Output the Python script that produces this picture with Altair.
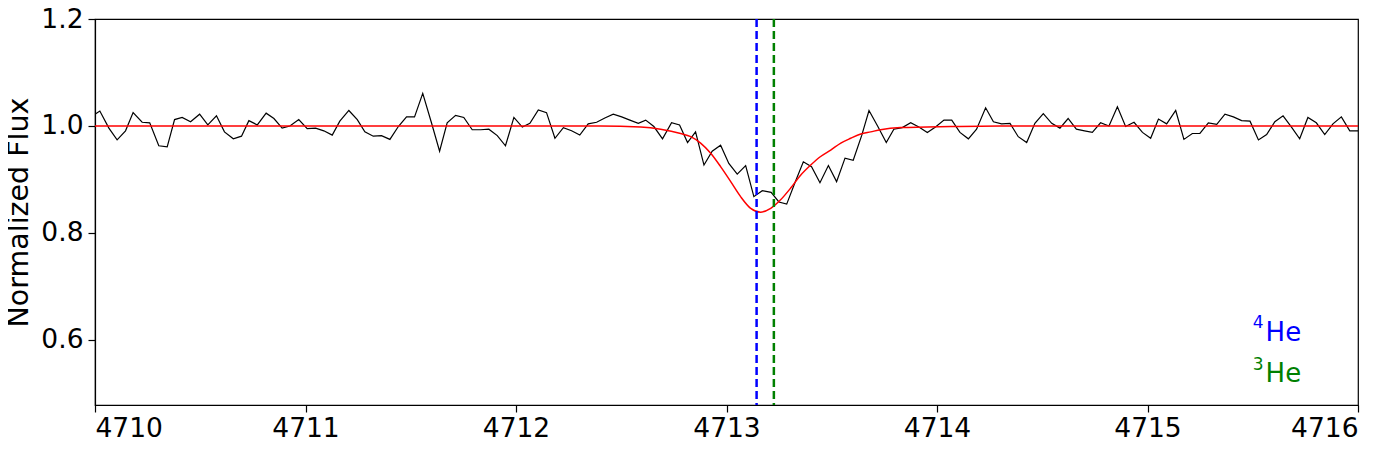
import altair as alt
import pandas as pd

# Observed spectrum (wavelength in Angstrom, normalized flux)
obs_wave = [
    4710.000, 4710.023, 4710.066, 4710.105, 4710.145, 4710.181, 4710.224, 4710.260, 4710.303, 4710.343,
    4710.378, 4710.414, 4710.454, 4710.497, 4710.536, 4710.577, 4710.615, 4710.657, 4710.696, 4710.731,
    4710.771, 4710.813, 4710.850, 4710.889, 4710.926, 4710.968, 4711.008, 4711.048, 4711.087, 4711.127,
    4711.163, 4711.206, 4711.246, 4711.282, 4711.322, 4711.361, 4711.401, 4711.441, 4711.480, 4711.518,
    4711.557, 4711.597, 4711.637, 4711.673, 4711.713, 4711.752, 4711.792, 4711.832, 4711.871, 4711.911,
    4711.950, 4711.990, 4712.030, 4712.066, 4712.106, 4712.145, 4712.185, 4712.225, 4712.264, 4712.303,
    4712.343, 4712.383, 4712.422, 4712.462, 4712.502, 4712.541, 4712.581, 4712.616, 4712.655, 4712.696,
    4712.739, 4712.777, 4712.815, 4712.853, 4712.893, 4712.932, 4712.972, 4713.011, 4713.051, 4713.091,
    4713.130, 4713.170, 4713.212, 4713.249, 4713.286, 4713.326, 4713.365, 4713.404, 4713.444, 4713.484,
    4713.523, 4713.563, 4713.602, 4713.642, 4713.677, 4713.719, 4713.759, 4713.795, 4713.835, 4713.875,
    4713.914, 4713.954, 4713.993, 4714.033, 4714.070, 4714.109, 4714.149, 4714.188, 4714.231, 4714.268,
    4714.307, 4714.347, 4714.386, 4714.426, 4714.465, 4714.505, 4714.545, 4714.584, 4714.623, 4714.662,
    4714.701, 4714.738, 4714.777, 4714.817, 4714.857, 4714.896, 4714.936, 4714.976, 4715.015, 4715.052,
    4715.091, 4715.134, 4715.173, 4715.213, 4715.249, 4715.289, 4715.329, 4715.368, 4715.408, 4715.447,
    4715.487, 4715.527, 4715.566, 4715.605, 4715.644, 4715.684, 4715.723, 4715.762, 4715.802, 4715.842,
    4715.881, 4715.921, 4715.961, 4716.000,
]
obs_flux = [
    1.022, 1.028, 0.996, 0.974, 0.991, 1.025, 1.007, 1.006, 0.963, 0.961,
    1.012, 1.016, 1.008, 1.022, 1.002, 1.019, 0.989, 0.976, 0.981, 1.010,
    1.002, 1.024, 1.014, 0.996, 1.000, 1.012, 0.995, 0.996, 0.991, 0.983,
    1.009, 1.029, 1.012, 0.989, 0.981, 0.982, 0.975, 0.999, 1.017, 1.017,
    1.061, 1.008, 0.953, 1.006, 1.020, 1.016, 0.993, 0.993, 0.994, 0.982,
    0.963, 1.016, 0.998, 1.005, 1.030, 1.025, 0.977, 0.997, 0.991, 0.983,
    1.004, 1.007, 1.015, 1.022, 1.017, 1.011, 1.005, 1.011, 0.999, 0.976,
    1.006, 1.002, 0.969, 0.989, 0.927, 0.953, 0.964, 0.930, 0.910, 0.926,
    0.868, 0.879, 0.876, 0.858, 0.854, 0.895, 0.933, 0.924, 0.894, 0.926,
    0.896, 0.940, 0.936, 0.982, 1.029, 0.999, 0.969, 0.994, 0.997, 1.006,
    0.998, 0.988, 0.998, 1.011, 1.011, 0.988, 0.976, 0.994, 1.034, 1.008,
    1.004, 1.005, 0.980, 0.969, 1.005, 1.023, 1.005, 0.996, 1.014, 0.994,
    0.991, 0.988, 1.006, 1.000, 1.036, 0.999, 1.007, 0.988, 0.977, 1.013,
    1.004, 1.029, 0.975, 0.986, 0.986, 1.006, 1.003, 1.022, 1.017, 1.010,
    1.009, 0.974, 0.984, 1.008, 1.019, 0.998, 0.976, 1.016, 1.006, 0.984,
    1.004, 1.017, 0.991, 0.991,
]

# Model fit (red curve)
model_wave = [
    4710.000, 4712.400, 4712.592, 4712.687, 4712.782, 4712.830, 4712.877, 4712.925, 4712.972, 4713.020,
    4713.067, 4713.115, 4713.162, 4713.210, 4713.257, 4713.305, 4713.352, 4713.400, 4713.447, 4713.495,
    4713.543, 4713.590, 4713.638, 4713.685, 4713.732, 4713.827, 4714.065, 4714.302, 4716.000,
]
model_flux = [
    1.000, 1.000, 0.998, 0.994, 0.986, 0.980, 0.968, 0.949, 0.924, 0.896,
    0.868, 0.846, 0.839, 0.846, 0.862, 0.884, 0.908, 0.927, 0.943, 0.955,
    0.968, 0.977, 0.985, 0.989, 0.993, 0.997, 0.999, 1.000, 1.000,
]

# Line positions
line_names = ["4He", "3He"]
line_wave = [4713.143, 4713.225]
line_colors = ["#0000ff", "#008000"]

# Labels (mass number as superscript + element symbol)
label_sup = ["4", "3"]
label_main = ["He", "He"]
label_x = [4715.561, 4715.561]
label_y = [0.598, 0.522]
label_sup_y = [0.623, 0.544]

x_ticks = [4710, 4711, 4712, 4713, 4714, 4715, 4716]
y_ticks = [0.6, 0.8, 1.0, 1.2]

obs = pd.DataFrame({"wave": obs_wave, "flux": obs_flux})
model = pd.DataFrame({"wave": model_wave, "flux": model_flux})
lines = pd.DataFrame({"name": line_names, "wave": line_wave, "color": line_colors})
labels = pd.DataFrame({"sup": label_sup, "main": label_main, "x": label_x,
                       "y": label_y, "ysup": label_sup_y, "color": line_colors})

xscale = alt.Scale(domain=[4710, 4716], nice=False, zero=False)
yscale = alt.Scale(domain=[0.4785, 1.2], nice=False, zero=False)

xaxis = alt.Axis(values=x_ticks, format="d", title=None, labelPadding=3)
yaxis = alt.Axis(values=y_ticks, format=".1f", title="Normalized Flux",
                 titleX=-62, titleY=193, titleAngle=-90, titleBaseline="bottom",
                 titleAlign="center", labelPadding=5)

obs_line = alt.Chart(obs).mark_line(color="black", strokeWidth=1.2, clip=True).encode(
    x=alt.X("wave:Q", scale=xscale, axis=xaxis),
    y=alt.Y("flux:Q", scale=yscale, axis=yaxis),
)

model_line = alt.Chart(model).mark_line(color="red", strokeWidth=1.5, interpolate="monotone", clip=True).encode(
    x=alt.X("wave:Q", scale=xscale),
    y=alt.Y("flux:Q", scale=yscale),
)

vlines = alt.Chart(lines).mark_rule(strokeWidth=2.5, strokeDash=[8, 4]).encode(
    x=alt.X("wave:Q", scale=xscale),
    color=alt.Color("color:N", scale=None),
)

main_text = alt.Chart(labels).mark_text(fontSize=26, font="DejaVu Sans", align="left", baseline="alphabetic").encode(
    x=alt.X("x:Q", scale=xscale),
    y=alt.Y("y:Q", scale=yscale),
    text="main:N",
    color=alt.Color("color:N", scale=None),
)

sup_text = alt.Chart(labels).mark_text(fontSize=17, font="DejaVu Sans", align="right", baseline="alphabetic", dx=-2).encode(
    x=alt.X("x:Q", scale=xscale),
    y=alt.Y("ysup:Q", scale=yscale),
    text="sup:N",
    color=alt.Color("color:N", scale=None),
)

chart = alt.layer(obs_line, model_line, vlines, main_text, sup_text).properties(
    width=1263,
    height=386,
    autosize="none",
    padding={"left": 87, "top": 11, "right": 30, "bottom": 36},
    background="white",
).configure_view(
    stroke="black", strokeWidth=1.2,
).configure_axis(
    grid=False,
    domainColor="black",
    domainWidth=1.2,
    tickColor="black",
    tickSize=7,
    tickWidth=1.2,
    labelColor="black",
    labelFont="DejaVu Sans",
    labelFontSize=26.5,
    titleFont="DejaVu Sans",
    titleFontSize=28.5,
    titleFontWeight="normal",
    titleColor="black",
)

chart.save("out.html", embed_options={"renderer": "svg", "actions": False})
